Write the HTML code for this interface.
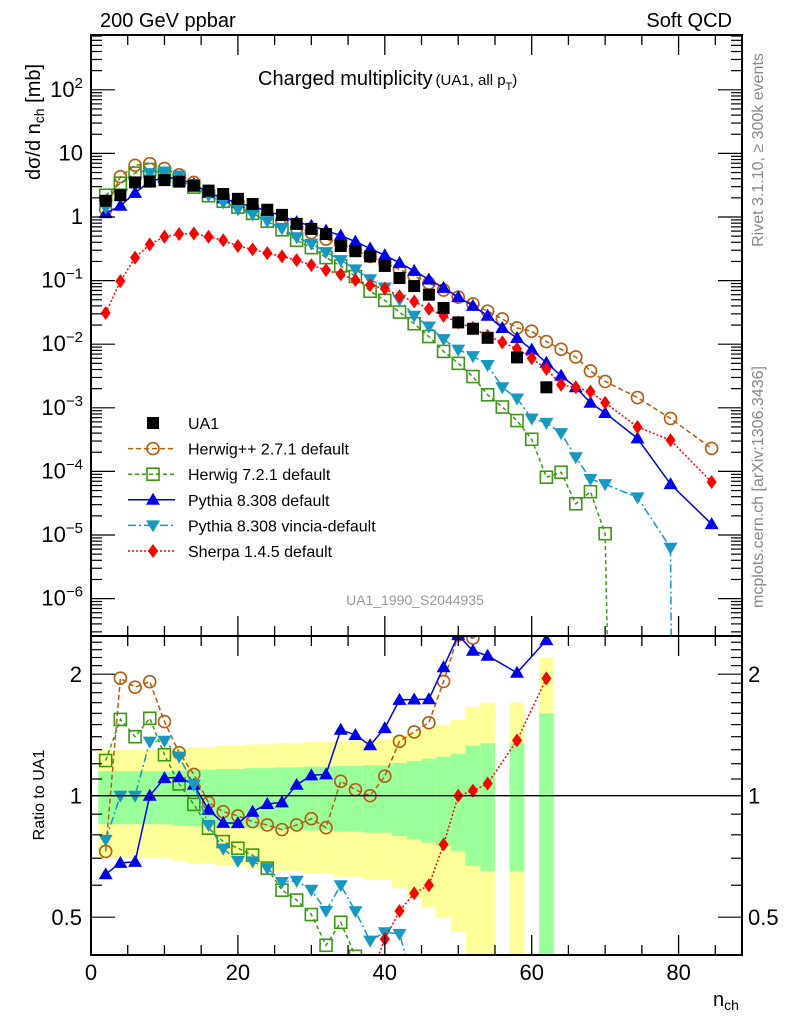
<!DOCTYPE html>
<html><head><meta charset="utf-8"><style>
html,body{margin:0;padding:0;background:#fff;width:786px;height:1024px;overflow:hidden}
svg{display:block;font-family:"Liberation Sans",sans-serif;overflow:hidden}
</style></head><body>
<svg id="chart" width="786" height="1024" viewBox="0 0 786 1024" xmlns="http://www.w3.org/2000/svg">
<defs>
<clipPath id="clipMain"><rect x="91" y="35" width="651" height="601"/></clipPath>
<clipPath id="clipRatio"><rect x="91" y="636" width="651" height="319"/></clipPath>
</defs>
<g id="bands" clip-path="url(#clipRatio)"></g>
<g id="marks"></g>
<g id="axes"></g>
<text x="100" y="27" font-size="20">200 GeV ppbar</text>
<text x="732" y="27" font-size="20" text-anchor="end">Soft QCD</text>
<text x="258" y="85" font-size="20">Charged multiplicity<tspan font-size="15" dx="3">(UA1, all p</tspan><tspan font-size="11" dy="5">T</tspan><tspan font-size="15" dy="-5">)</tspan></text>
<text transform="translate(40,122) rotate(-90)" font-size="20" text-anchor="middle">dσ/d n<tspan font-size="14" dy="4">ch</tspan><tspan dy="-4"> [mb]</tspan></text>
<text transform="translate(763,150) rotate(-90)" font-size="16" fill="#888" text-anchor="middle">Rivet 3.1.10, ≥ 300k events</text>
<text transform="translate(763,487) rotate(-90)" font-size="16" fill="#888" text-anchor="middle">mcplots.cern.ch [arXiv:1306.3436]</text>
<text x="415" y="605" font-size="14" fill="#999" text-anchor="middle">UA1_1990_S2044935</text>
<text transform="translate(44,795) rotate(-90)" font-size="16" text-anchor="middle">Ratio to UA1</text>
<text x="713" y="1006" font-size="20">n<tspan font-size="14" dy="4">ch</tspan></text>
<g id="legend"></g>
</svg>
<script>
// ---- data ----
const nUA1 = [2,4,6,8,10,12,14,16,18,20,22,24,26,28,30,32,34,36,38,40,42,44,46,48,50,52,54,58,62];
const ua1 = [1.8,2.2,3.5,3.6,3.8,3.6,3.1,2.6,2.3,1.93,1.6,1.3,1.08,0.78,0.65,0.54,0.35,0.29,0.24,0.17,0.11,0.082,0.06,0.037,0.022,0.0175,0.0126,0.0062,0.0021];
const ua1Err = [0.15,0.15,0.15,0.15,0.15,0.155,0.16,0.16,0.165,0.165,0.17,0.17,0.175,0.175,0.18,0.18,0.185,0.185,0.19,0.19,0.205,0.22,0.235,0.25,0.27,0.33,0.35,0.35,0.6];
const nMC = [2,4,6,8,10,12,14,16,18,20,22,24,26,28,30,32,34,36,38,40,42,44,46,48,50,52,54,56,58,60,62,64,66,68,70,74.4,78.9,84.5];
const herwigpp = [1.31,4.3,6.5,6.9,5.8,4.6,3.5,2.5,2.1,1.72,1.38,1.1,0.89,0.66,0.57,0.45,0.38,0.30,0.24,0.19,0.15,0.118,0.091,0.071,0.055,0.043,0.033,0.025,0.018,0.016,0.011,0.0083,0.0063,0.0038,0.0026,0.00145,0.00068,0.00023];
const nH7 = [2,4,6,8,10,12,14,16,18,20,22,24,26,28,30,32,34,36,38,40,42,44,46,48,50,52,54,56,58,60,62,64,66,68,70,70.3];
const herwig7 = [2.2,3.4,4.9,5.6,4.8,3.85,2.95,2.16,1.77,1.43,1.14,0.86,0.63,0.43,0.33,0.23,0.17,0.116,0.068,0.049,0.032,0.021,0.0132,0.0077,0.005,0.0031,0.0016,0.00103,0.00063,0.00032,0.000081,0.000097,0.000031,0.000048,0.0000105,0.0000002];
const pythia = [1.15,1.5,2.4,3.6,4.2,4.0,3.3,2.4,1.97,1.65,1.46,1.24,1.04,0.83,0.73,0.61,0.51,0.41,0.32,0.25,0.19,0.142,0.104,0.077,0.055,0.040,0.028,0.018,0.0125,0.0082,0.0051,0.0032,0.0021,0.0012,0.00083,0.00033,0.000063,0.0000148];
const nVin = [2,4,6,8,10,12,14,16,18,20,22,24,26,28,30,32,34,36,38,40,42,44,46,48,50,52,54,56,58,60,62,64,66,68,70,74.4,78.9,79];
const vincia = [1.4,2.2,3.5,4.9,5.2,4.5,3.3,2.2,1.7,1.33,1.10,0.86,0.66,0.48,0.38,0.28,0.21,0.15,0.105,0.078,0.05,0.028,0.019,0.012,0.0082,0.0065,0.0047,0.0021,0.0014,0.00068,0.00058,0.0004,0.000167,0.000076,0.000063,0.000039,0.0000063,0.0000002];
const sherpa = [0.031,0.098,0.23,0.37,0.49,0.54,0.55,0.49,0.43,0.35,0.31,0.27,0.24,0.21,0.175,0.146,0.125,0.102,0.085,0.075,0.057,0.047,0.036,0.028,0.022,0.018,0.0135,0.0107,0.0085,0.006,0.0041,0.0023,0.0021,0.0018,0.0012,0.0005,0.00031,0.000068];
const yTickExp = [2,1,0,-1,-2,-3,-4,-5,-6];
const xTicks = [0,20,40,60,80];
const rTicks = [0.5,1,2];

// ---- axes functions ----
const X0=91, X1=742, MT=35, MB=636, RB=955;
const xs = n => X0 + n*7.345;
const ym = v => 217 - 63.6*Math.log10(v);
const yr = r => 795.7 - 121.5*Math.log2(r);
const NS='http://www.w3.org/2000/svg';
function mk(tag, attrs, parent){const e=document.createElementNS(NS,tag);for(const k in attrs)e.setAttribute(k,attrs[k]);parent.appendChild(e);return e;}
const axes=document.getElementById('axes'), marks=document.getElementById('marks'), bands=document.getElementById('bands'), legend=document.getElementById('legend');

// bands
nUA1.forEach((n,i)=>{
  const s=ua1Err[i];
  const top2=yr(1+2*s), bot2=Math.min(RB,yr(Math.max(1-2*s,0.01)));
  const y1=mk('rect',{x:xs(n-1),width:xs(n+1)-xs(n-1),y:top2,height:bot2-top2,fill:'#ffff99'},bands);
  
  
  const g1=mk('rect',{x:xs(n-1),width:xs(n+1)-xs(n-1),y:yr(1+s),height:Math.min(RB,yr(1-s))-yr(1+s),fill:'#99ff99'},bands);
  
  
});

// frames and ticks
const f1=mk('rect',{x:X0,y:MT,width:X1-X0,height:MB-MT,fill:'none',stroke:'#000','stroke-width':2},axes);


const f2=mk('rect',{x:X0,y:MB,width:X1-X0,height:RB-MB,fill:'none',stroke:'#000','stroke-width':2},axes);


const one=mk('line',{x1:X0,x2:X1,y1:yr(1),y2:yr(1),stroke:'#000','stroke-width':1.3},axes);


for(let n=0;n<=85;n+=5){
  const L=(n%20===0)?20:10, x=xs(n);
  [[MT,MT+L],[MB,MB-L],[MB,MB+L],[RB,RB-L]].forEach(([a,b])=>mk('line',{x1:x,x2:x,y1:a,y2:b,stroke:'#000','stroke-width':1.3},axes));
}
xTicks.forEach(n=>{const t=mk('text',{x:xs(n),y:980,'font-size':22,'text-anchor':'middle'},axes);t.textContent=n;
  
  });
for(let e=-7;e<=2;e++){
  for(let m=1;m<10;m++){const v=m*Math.pow(10,e), y=ym(v); if(y<MT||y>MB)continue;
    const L=m===1?24:11;
    mk('line',{x1:X0,x2:X0+L,y1:y,y2:y,stroke:'#000','stroke-width':1.2},axes);
    mk('line',{x1:X1,x2:X1-L,y1:y,y2:y,stroke:'#000','stroke-width':1.2},axes);}
}
yTickExp.forEach(e=>{const y=ym(Math.pow(10,e))+7;
  const t=mk('text',{x:83,y:y,'font-size':22,'text-anchor':'end'},axes);
  
  
  if(e===1)t.textContent='10'; else if(e===0)t.textContent='1';
  else{t.textContent='10';const s=mk('tspan',{'font-size':15,dy:-9},t);s.textContent=(e<0?'−':'')+Math.abs(e);}
});
for(let r=0.4;r<2.56;r+=0.1){const y=yr(r); if(y<MB||y>RB)continue;
  const maj=[0.5,1,2].some(v=>Math.abs(v-r)<1e-6), L=maj?24:11;
  mk('line',{x1:X0,x2:X0+L,y1:y,y2:y,stroke:'#000','stroke-width':1.2},axes);
  mk('line',{x1:X1,x2:X1-L,y1:y,y2:y,stroke:'#000','stroke-width':1.2},axes);}
rTicks.forEach(r=>{
  const t=mk('text',{x:82,y:yr(r)+8,'font-size':22,'text-anchor':'end'},axes);t.textContent=r;
  
  
  const t2=mk('text',{x:748,y:yr(r)+8,'font-size':22},axes);t2.textContent=r;
  
  });

// markers
function marker(type,x,y,col,parent){
  if(type==='sq') return mk('rect',{x:x-6,y:y-6,width:12,height:12,fill:'#000'},parent);
  if(type==='circ') return mk('circle',{cx:x,cy:y,r:6,fill:'none',stroke:col,'stroke-width':1.6},parent);
  if(type==='osq') return mk('rect',{x:x-6,y:y-6,width:12,height:12,fill:'none',stroke:col,'stroke-width':1.6},parent);
  if(type==='up') return mk('polygon',{points:`${x},${y-7} ${x-7},${y+5} ${x+7},${y+5}`,fill:col},parent);
  if(type==='dn') return mk('polygon',{points:`${x},${y+7} ${x-7},${y-5} ${x+7},${y-5}`,fill:col},parent);
  if(type==='dia') return mk('polygon',{points:`${x},${y-7} ${x-5},${y} ${x},${y+7} ${x+5},${y}`,fill:col},parent);
}
const series=[
  {name:'herwigpp',label:'Herwig++ 2.7.1 default',n:nMC,v:herwigpp,col:'#b35c12',m:'circ',dash:'5,3'},
  {name:'herwig7',label:'Herwig 7.2.1 default',n:nH7,v:herwig7,col:'#3c9614',m:'osq',dash:'4,3'},
  {name:'pythia',label:'Pythia 8.308 default',n:nMC,v:pythia,col:'#0000ee',m:'up',dash:''},
  {name:'vincia',label:'Pythia 8.308 vincia-default',n:nVin,v:vincia,col:'#1798c0',m:'dn',dash:'8,3,2,3'},
  {name:'sherpa',label:'Sherpa 1.4.5 default',n:nMC,v:sherpa,col:'#ff0000',m:'dia',dash:'2,2'}
];
const gm=mk('g',{'clip-path':'url(#clipMain)'},marks);
const gr=mk('g',{'clip-path':'url(#clipRatio)'},marks);
series.forEach(s=>{
  const pts=s.n.map((n,i)=>[xs(n),ym(s.v[i])]);
  const pl=mk('polyline',{points:pts.map(p=>p.join(',')).join(' '),fill:'none',stroke:s.col,'stroke-width':1.5,'stroke-dasharray':s.dash},gm);
  
  
  pts.forEach(p=>{if(p[1]<MB){const m=marker(s.m,p[0],p[1],s.col,gm);
    
    }});
  const rp=[];
  s.n.forEach((n,i)=>{const j=nUA1.indexOf(n); if(j>=0) rp.push([xs(n),yr(s.v[i]/ua1[j])]);});
  const rl=mk('polyline',{points:rp.map(p=>p.join(',')).join(' '),fill:'none',stroke:s.col,'stroke-width':1.5,'stroke-dasharray':s.dash},gr);
  
  
  rp.forEach(p=>{if(p[1]<RB+8){const m=marker(s.m,p[0],p[1],s.col,gr);
    
    }});
});
nUA1.forEach((n,i)=>{const m=marker('sq',xs(n),ym(ua1[i]),'#000',gm);
  
  });

// legend
const rows=[{label:'UA1',m:'sq',col:'#000',dash:null}].concat(series);
rows.forEach((s,i)=>{
  const y=423+i*25.6;
  const g=mk('g',{},legend);
  
  
  if(s.dash!==null) mk('line',{x1:128,x2:175,y1:y,y2:y,stroke:s.col,'stroke-width':1.5,'stroke-dasharray':s.dash},g);
  marker(s.m,153,y,s.col,g);
  const t=mk('text',{x:188,y:y+6,'font-size':16},g);t.textContent=s.label;
});
</script>
</body></html>
